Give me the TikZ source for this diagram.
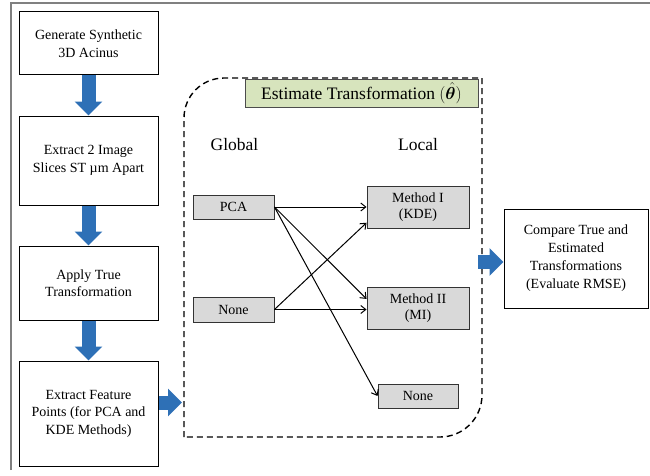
\documentclass[tikz,border=0pt]{standalone}
\usepackage{fontspec}
\setmainfont{Liberation Serif}
\usepackage{bm}
\usetikzlibrary{arrows.meta,positioning,calc}
\definecolor{stepblue}{RGB}{46,112,182}
\definecolor{titlegreen}{RGB}{215,228,189}

\tikzset{
  stepbox/.style={draw=black, line width=1pt, align=center, inner sep=2pt,
    minimum width=139pt, font=\fontsize{14}{17.5}\selectfont},
  methodbox/.style={draw=black!80, line width=0.9pt, fill=gray!30, align=center,
    inner sep=1pt, font=\fontsize{14}{15.5}\selectfont},
  bigarrow/.style={draw=stepblue, line width=14pt, -{Triangle[length=14pt,width=27pt]}},
  choice/.style={line width=1pt, -{Straight Barb[length=5pt,width=8pt]}},
  region/.style={line width=1.4pt, dash pattern=on 6pt off 4pt}
}

\begin{document}
\begin{tikzpicture}[x=1pt,y=1pt,node distance=40pt]
\useasboundingbox (0,0) rectangle (650,475);
\draw[gray, line width=1.6pt] (11,5) -- (11,472) -- (650,472);

% left column
\node[stepbox, minimum height=63pt] (gen) at (88.5,431.5) {Generate Synthetic\\3D Acinus};
\node[stepbox, minimum height=89pt, below=of gen] (slices) {Extract 2 Image\\Slices ST \textmu m Apart};
\node[stepbox, minimum height=74pt, below=of slices] (apply) {Apply True\\Transformation};
\node[stepbox, minimum height=105pt, below=of apply] (feat) {Extract Feature\\Points (for PCA and\\KDE Methods)};

\draw[bigarrow] (gen.south) -- (slices.north);
\draw[bigarrow] (slices.south) -- (apply.north);
\draw[bigarrow] (apply.south) -- (feat.north);

% estimation block
\draw[region] (184,38) -- (184,357) arc (180:90:40) -- (482,397) -- (482,80) arc (0:-90:42) -- cycle;
\coordinate (regW) at (182,72.5);
\coordinate (regE) at (478,213);
\node[draw=black!70, line width=0.9pt, fill=titlegreen, minimum width=233pt, minimum height=28pt,
  font=\fontsize{17.5}{20}\selectfont] (title) at (361.5,382)
  {Estimate Transformation $(\hat{\bm{\theta}})$};

\node[font=\fontsize{17.5}{20}\selectfont] (glob) at (234.5,330) {Global};
\node[font=\fontsize{17.5}{20}\selectfont] (loc) at (418,330) {Local};

\node[methodbox, minimum width=81pt, minimum height=24pt] (pca) at (233.5,268) {PCA};
\node[methodbox, minimum width=81pt, minimum height=25pt] (gnone) at (233.5,165.5) {None};
\node[methodbox, minimum width=102pt, minimum height=42pt] (m1) at (418,268) {Method I\\(KDE)};
\node[methodbox, minimum width=102pt, minimum height=42pt] (m2) at (418,167) {Method II\\(MI)};
\node[methodbox, minimum width=80pt, minimum height=24pt] (lnone) at (418,79) {None};

\draw[choice] (pca.east) -- (m1.west);
\draw[choice] (pca.east) -- (m2.170);
\draw[choice] (pca.east) -- (lnone.west);
\draw[choice] (gnone.east) -- (m1.197);
\draw[choice] (gnone.east) -- (m2.west |- gnone.east);

\draw[bigarrow] (feat.east |- regW) -- (regW);

% result
\node[stepbox, minimum width=144pt, minimum height=99pt, font=\fontsize{14}{18}\selectfont] (cmp) at (576,216.5)
  {Compare True and\\Estimated\\Transformations\\(Evaluate RMSE)};
\draw[bigarrow] (regE) -- (cmp.west |- regE);
\end{tikzpicture}
\end{document}
